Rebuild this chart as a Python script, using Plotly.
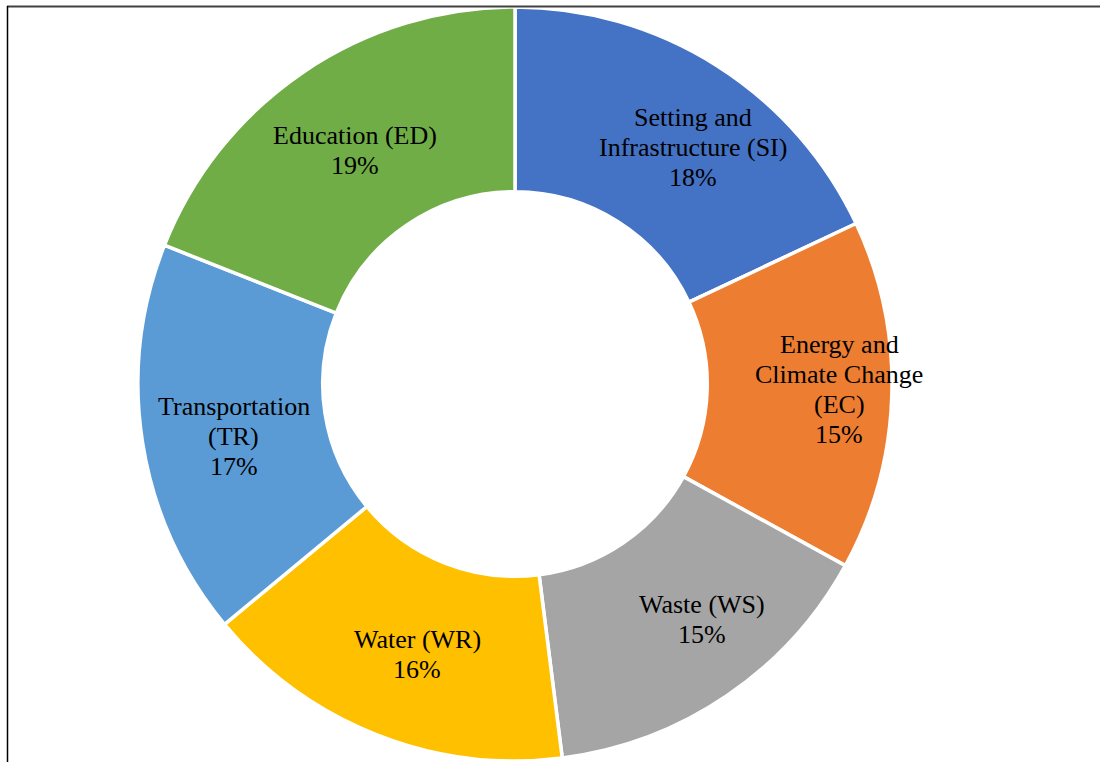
import math
import plotly.graph_objects as go

categories = ["Setting and<br>Infrastructure (SI)", "Energy and<br>Climate Change<br>(EC)", "Waste (WS)",
              "Water (WR)", "Transportation<br>(TR)", "Education (ED)"]
values = [18, 15, 15, 16, 17, 19]
colors = ["#4472C4", "#ED7D31", "#A5A5A5", "#FFC000", "#5B9BD5", "#70AD47"]

W, H = 1105, 762
cx, cy, R = 515, 384, 377
HOLE = 0.51
LABEL_R = (R + R * HOLE) / 2
# per-label nudges in pixels (layout tweak to mimic original label placement)
nudges = [(25, 4), (40, -3), (27, 0), (7, 6), (0, 8), (0, 2)]
LINE_GAP = 30
FONT = dict(family="Liberation Serif, Times New Roman, serif", size=26, color="black")

fig = go.Figure(go.Pie(
    labels=categories,
    values=values,
    textinfo="none",
    sort=False,
    direction="clockwise",
    rotation=0,
    hole=HOLE,
    marker=dict(colors=colors, line=dict(color="white", width=3.5)),
    domain=dict(x=[(cx - R) / W, (cx + R) / W], y=[(H - cy - R) / H, (H - cy + R) / H]),
    showlegend=False,
    hoverinfo="label+percent",
))

annotations = []
total = sum(values)
cum = 0
for cat, v, (dx, dy) in zip(categories, values, nudges):
    mid = (cum + v / 2) / total * 2 * math.pi
    cum += v
    px = cx + LABEL_R * math.sin(mid) + dx
    py = cy - LABEL_R * math.cos(mid) + dy
    lines = cat.split("<br>") + [f"{v}%"]
    n = len(lines)
    for i, line in enumerate(lines):
        ly = py + (i - (n - 1) / 2) * LINE_GAP
        annotations.append(dict(
            x=px / W, y=1 - ly / H, xref="paper", yref="paper",
            text=line, showarrow=False, xanchor="center", yanchor="middle",
            font=FONT,
        ))

fig.update_layout(
    width=W, height=H,
    margin=dict(l=0, r=0, t=0, b=0),
    paper_bgcolor="white",
    annotations=annotations,
    shapes=[
        dict(type="line", xref="paper", yref="paper", x0=7 / W, x1=1100 / W,
             y0=1 - 6.5 / H, y1=1 - 6.5 / H, line=dict(color="#404040", width=2)),
        dict(type="line", xref="paper", yref="paper", x0=7.5 / W, x1=7.5 / W,
             y0=0, y1=1 - 6 / H, line=dict(color="black", width=1.5)),
    ],
)

fig.write_html("out.html")
